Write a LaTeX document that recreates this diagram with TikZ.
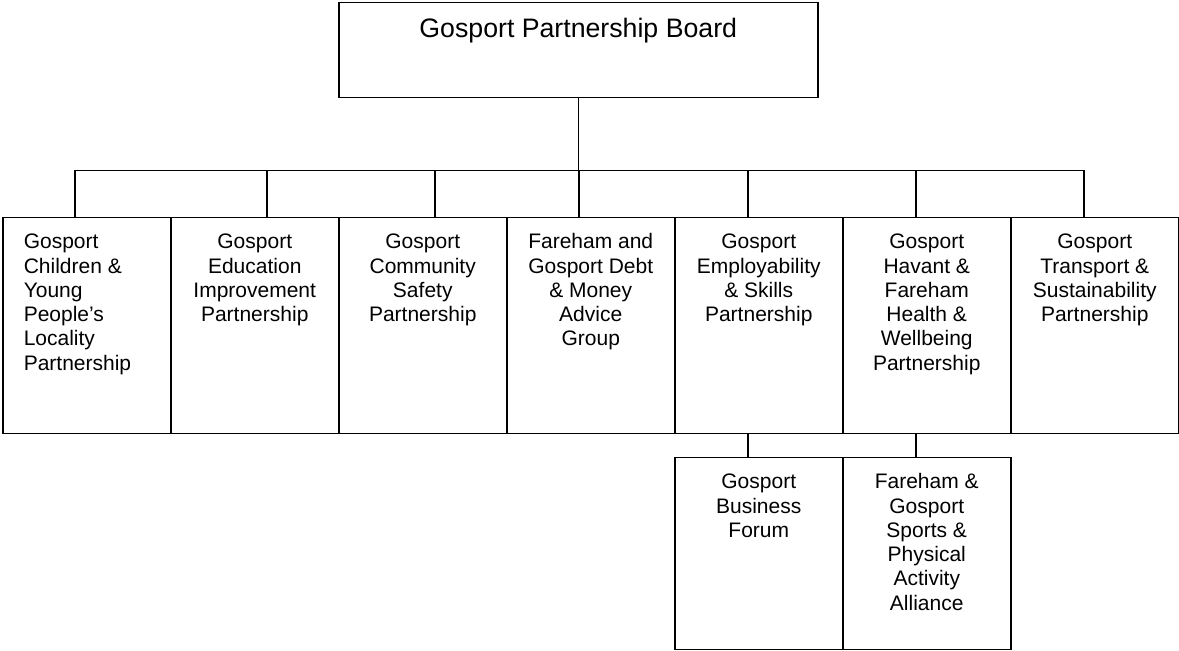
\documentclass[tikz,border=0pt]{standalone}
\usepackage{fontspec}
\setmainfont{Liberation Sans}
\newcommand{\boxtext}[2]{\parbox[t][#1][t]{84pt}{\centering\rule{0pt}{15.5pt}#2}}
\begin{document}
\begin{tikzpicture}[x=0.5pt,y=-0.5pt,
  unit/.style={draw, line width=0.75pt, anchor=north west, inner sep=0pt, font=\fontsize{10.5}{12.15}\selectfont},
  link/.style={line width=0.75pt}]
\useasboundingbox (0,0) rectangle (1179,651);
\node [unit, font=\fontsize{13.35}{16}\selectfont] (board) at (338,2) {\parbox[t][47.5pt][t]{239.5pt}{\centering\rule{0pt}{17.5pt}Gosport Partnership Board}};
\node [unit] (u1) at (2,217) {\parbox[t][108pt][t]{84pt}{\raggedright\leftskip=10.5pt\rule{0pt}{15.5pt}Gosport\\Children \&\\Young\\People’s\\Locality\\Partnership}};
\node [unit] (u2) at (170,217) {\boxtext{108pt}{Gosport\\Education\\Improvement\\Partnership}};
\node [unit] (u3) at (338,217) {\boxtext{108pt}{Gosport\\Community\\Safety\\Partnership}};
\node [unit] (u4) at (506,217) {\boxtext{108pt}{Fareham and\\Gosport Debt\\\& Money\\Advice\\Group}};
\node [unit] (u5) at (674,217) {\boxtext{108pt}{Gosport\\Employability\\\& Skills\\Partnership}};
\node [unit] (u6) at (842,217) {\boxtext{108pt}{Gosport\\Havant \&\\Fareham\\Health \&\\Wellbeing\\Partnership}};
\node [unit] (u7) at (1010,217) {\boxtext{108pt}{Gosport\\Transport \&\\Sustainability\\Partnership}};
\node [unit] (s1) at (674,457) {\boxtext{96pt}{Gosport\\Business\\Forum}};
\node [unit] (s2) at (842,457) {\boxtext{96pt}{Fareham \&\\Gosport\\Sports \&\\Physical\\Activity\\Alliance}};
% tree lines
\path (board.south) ++(0,72) coordinate (bus);
\draw [link] (board.south) -- (bus);
\draw [link] ([xshift=-6pt]u1.north) |- (bus);
\draw [link] ([xshift=6pt]u2.north) |- (bus);
\draw [link] ([xshift=6pt]u3.north) |- (bus);
\draw [link] ([xshift=-6pt]u4.north) |- (bus);
\draw [link] ([xshift=-5.5pt]u5.north) |- (bus);
\draw [link] ([xshift=-5.5pt]u6.north) |- (bus);
\draw [link] ([xshift=-5.5pt]u7.north) |- (bus);
\draw [link] ([xshift=-5.5pt]u5.south) -- ([xshift=-5.5pt]s1.north);
\draw [link] ([xshift=-5.5pt]u6.south) -- ([xshift=-5.5pt]s2.north);
\end{tikzpicture}
\end{document}
